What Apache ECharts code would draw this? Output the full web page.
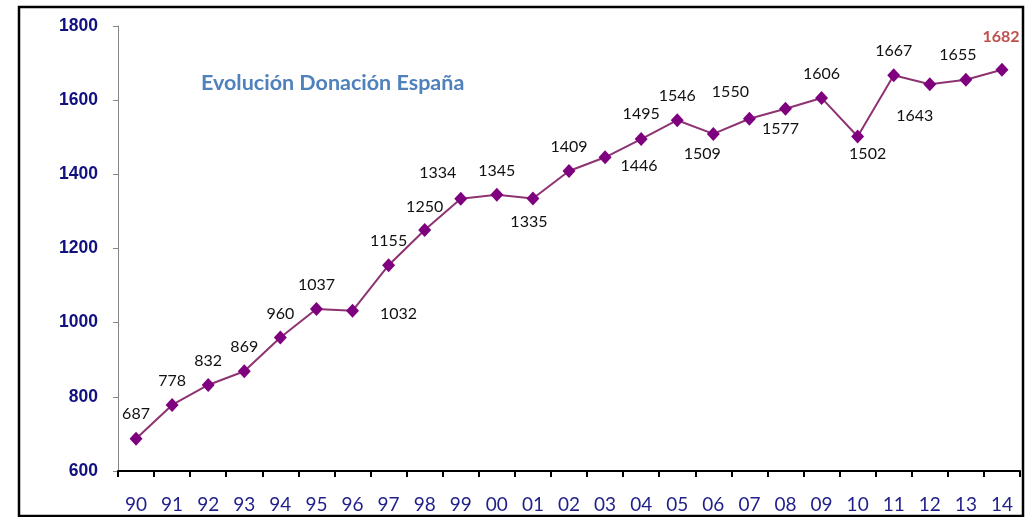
<!DOCTYPE html>
<html>
<head>
<meta charset="utf-8">
<script src="https://cdn.jsdelivr.net/npm/echarts@6/dist/echarts.min.js"></script>
<style>
  html, body { margin: 0; padding: 0; background: #fff; }
  #chart { width: 1032px; height: 517px; }
</style>
</head>
<body>
<div id="chart"></div>
<script>
// Donor counts per year, Spain 1990–2014
const years = ['90','91','92','93','94','95','96','97','98','99','00','01','02','03','04','05','06','07','08','09','10','11','12','13','14'];
const donations = [687, 778, 832, 869, 960, 1037, 1032, 1155, 1250, 1334, 1345, 1335, 1409, 1446, 1495, 1546, 1509, 1550, 1577, 1606, 1502, 1667, 1643, 1655, 1682];
const yTicks = [600, 800, 1000, 1200, 1400, 1600, 1800];

// Label placement relative to each marker [dx, dy], to keep labels clear of the line
const labelOffsets = [
  [0,-25],[0,-24],[0,-24],[0,-24],[0,-24],[0,-24],[46,3],[0,-24],[0,-23],[-23,-26],
  [0,-24],[-4,23],[0,-24],[34,9],[0,-25],[0,-24],[-11,20],[-19,-27],[-5,20],[0,-24],
  [10,17],[0,-24],[-15,32],[-8,-25],[-1,-33]
];

const lastIdx = donations.length - 1;
const seriesData = donations.map((v, i) => {
  const item = {
    value: v,
    label: { offset: labelOffsets[i] }
  };
  if (i === lastIdx) {
    item.label.color = '#C0504D';
    item.label.fontWeight = 'bold';
  }
  return item;
});

const chart = echarts.init(document.getElementById('chart'));
chart.setOption({
  animation: false,
  backgroundColor: '#ffffff',
  title: {
    text: 'Evolución Donación España',
    left: 196,
    top: 67,
    textStyle: { fontFamily: 'Lato', fontWeight: 'bold', fontSize: 21.5, color: '#4F81BD' }
  },
  grid: { left: 118, right: 12, top: 26, bottom: 46, containLabel: false },
  xAxis: {
    type: 'category',
    data: years,
    boundaryGap: true,
    axisLine: { lineStyle: { color: '#000', width: 2 } },
    axisTick: { show: true, length: 6, alignWithLabel: false, lineStyle: { color: '#000', width: 2 } },
    axisLabel: { fontFamily: 'Lato', fontSize: 19, color: '#1F1F8A', margin: 24 },
    splitLine: { show: false }
  },
  yAxis: {
    type: 'value',
    min: yTicks[0],
    max: yTicks[yTicks.length - 1],
    interval: yTicks[1] - yTicks[0],
    axisLine: { show: true, lineStyle: { color: '#868686', width: 1 } },
    axisTick: { show: true, length: 5, lineStyle: { color: '#868686' } },
    axisLabel: {
      fontFamily: 'Liberation Sans', fontWeight: 'bold', fontSize: 17.5, color: '#10107F', margin: 20,
      formatter: (v) => String(v)
    },
    splitLine: { show: false }
  },
  graphic: [{
    type: 'rect',
    shape: { x: 19, y: 7, width: 1004, height: 509 },
    style: { fill: 'none', stroke: '#000', lineWidth: 2.5 },
    z: 100
  }],
  series: [{
    type: 'line',
    data: seriesData,
    symbol: 'diamond',
    symbolSize: [13, 14],
    itemStyle: { color: '#7F007F' },
    lineStyle: { color: '#8E3372', width: 2 },
    label: {
      show: true,
      position: 'inside',
      fontFamily: 'Lato',
      fontSize: 16,
      color: '#111'
    }
  }]
});
</script>
</body>
</html>
